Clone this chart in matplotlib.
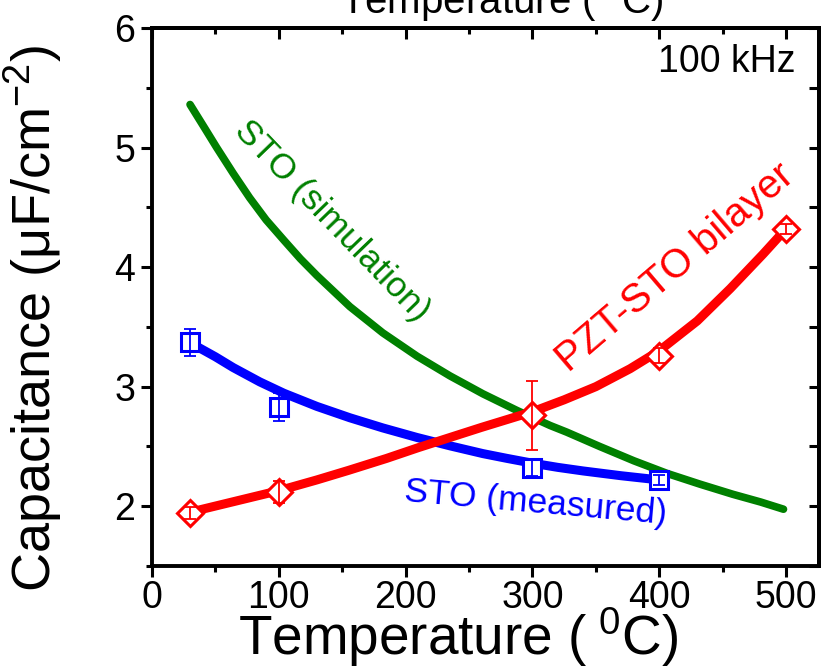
import matplotlib
matplotlib.use("Agg")
import matplotlib.pyplot as plt
from matplotlib.ticker import MultipleLocator

plt.rcParams['font.family'] = ['Liberation Sans', 'DejaVu Sans']
plt.rcParams['mathtext.fontset'] = 'custom'
plt.rcParams['mathtext.rm'] = 'Liberation Sans'
plt.rcParams['mathtext.it'] = 'Liberation Sans:italic'

# measured points (temperature in C, capacitance in uF/cm^2)
bilayer_t = [30, 100, 300, 400, 500]
bilayer_c = [1.94, 2.12, 2.76, 3.26, 4.32]
bilayer_err = [0.05, 0.09, 0.29, 0.06, 0.04]

sto_t = [30, 100, 300, 400]
sto_c = [3.37, 2.83, 2.32, 2.22]
sto_err = [0.11, 0.12, 0.07, 0.04]

# smooth guide curves
bilayer_fit_t = [30, 65, 100, 130, 155, 185, 210, 235, 260, 280, 300, 325,
                 350, 377, 400, 430, 456, 482, 500]
bilayer_fit_c = [1.95, 2.04, 2.13, 2.22, 2.30, 2.40, 2.49, 2.575, 2.66, 2.725,
                 2.79, 2.89, 3.00, 3.15, 3.30, 3.55, 3.82, 4.11, 4.32]

sto_fit_t = [33, 50, 64, 85, 104, 130, 156, 182, 209, 235, 261, 280, 300,
             320, 340, 370, 400]
sto_fit_c = [3.35, 3.25, 3.16, 3.04, 2.945, 2.835, 2.74, 2.655, 2.575, 2.505,
             2.44, 2.40, 2.36, 2.325, 2.295, 2.255, 2.22]

sim_t = [30, 42, 51, 64, 77, 90, 104, 117, 130, 156, 182, 209, 235, 261, 288,
         314, 327, 353, 380, 406, 432, 458, 480, 498]
sim_c = [5.36, 5.155, 5.00, 4.785, 4.58, 4.395, 4.225, 4.07, 3.93, 3.67, 3.45,
         3.255, 3.09, 2.94, 2.80, 2.675, 2.62, 2.50, 2.38, 2.275, 2.185, 2.10,
         2.035, 1.975]

RED = '#ff0000'
BLUE = '#0000ff'
GREEN = '#008000'

W, H = 821, 669
fig = plt.figure(figsize=(W / 100, H / 100), dpi=100)
ax = fig.add_axes([152 / W, 103 / H, 667 / W, 538 / H])

ax.plot(sim_t, sim_c, color=GREEN, lw=5.5, solid_capstyle='round',
        solid_joinstyle='round', zorder=2)
ax.plot(sto_fit_t, sto_fit_c, color=BLUE, lw=6.5, solid_capstyle='round',
        solid_joinstyle='round', zorder=2)
ax.plot(bilayer_fit_t, bilayer_fit_c, color=RED, lw=6.5, solid_capstyle='round',
        solid_joinstyle='round', zorder=2)

ax.plot(bilayer_t, bilayer_c, ls='none', marker='D', ms=13.5, mfc='white',
        mec=RED, mew=2.2, zorder=3)
ax.plot(sto_t, sto_c, ls='none', marker='s', ms=12.5, mfc='white',
        mec=BLUE, mew=2.2, zorder=3)
ax.errorbar(bilayer_t, bilayer_c, yerr=bilayer_err, fmt='none', ecolor=RED,
            elinewidth=1.3, capsize=4, capthick=1.3, zorder=4)
ax.errorbar(sto_t, sto_c, yerr=sto_err, fmt='none', ecolor=BLUE,
            elinewidth=1.3, capsize=4, capthick=1.3, zorder=4)

ax.set_xlim(0, 526)
ax.set_ylim(1.5, 6)
ax.xaxis.set_major_locator(MultipleLocator(100))
ax.xaxis.set_minor_locator(MultipleLocator(50))
ax.yaxis.set_major_locator(MultipleLocator(1))
ax.yaxis.set_minor_locator(MultipleLocator(0.5))
ax.tick_params(which='major', direction='out', length=8, width=2.2,
               labelsize=27, pad=4)
ax.tick_params(which='minor', direction='out', length=4.5, width=2.2)
ax.tick_params(axis='x', which='major', pad=2)
for sp in ax.spines.values():
    sp.set_linewidth(2.8)

# mirrored ticks on top and right, pointing inward
top = ax.secondary_xaxis('top')
top.xaxis.set_major_locator(MultipleLocator(100))
top.xaxis.set_minor_locator(MultipleLocator(50))
top.tick_params(which='major', direction='in', length=8, width=2.2, labeltop=False)
top.tick_params(which='minor', direction='in', length=4.5, width=2.2)
top.spines['top'].set_linewidth(2.8)

right = ax.secondary_yaxis('right')
right.yaxis.set_major_locator(MultipleLocator(0.5))
right.tick_params(which='major', direction='in', length=7, width=2.2, labelright=False)
right.spines['right'].set_linewidth(2.8)

xlabel = r'Temperature ($\;{}^{0}$C)'
fig.text(458 / W, 1 - 655 / H, xlabel, fontsize=39.5, ha='center', va='baseline')
fig.text(502 / W, 1 - 13 / H, xlabel, fontsize=29, ha='center', va='baseline')
fig.text(33 / W, 1 - 318 / H, r'Capacitance (μF/cm$^{-2}$)', fontsize=39,
         rotation=90, ha='center', va='center')

fig.text(795 / W, 1 - 62 / H, '100 kHz', fontsize=27, ha='right', va='center')
fig.text(332 / W, 1 - 221 / H, 'STO (simulation)', color=GREEN, fontsize=25.5,
         rotation=-46, ha='center', va='center', rotation_mode='anchor')
fig.text(675 / W, 1 - 268 / H, 'PZT-STO bilayer', color=RED, fontsize=29,
         rotation=40.5, ha='center', va='center', rotation_mode='anchor')
fig.text(536 / W, 1 - 503 / H, 'STO (measured)', color=BLUE, fontsize=25.5,
         rotation=-5, ha='center', va='center', rotation_mode='anchor')

fig.savefig('out.png', dpi=100)
